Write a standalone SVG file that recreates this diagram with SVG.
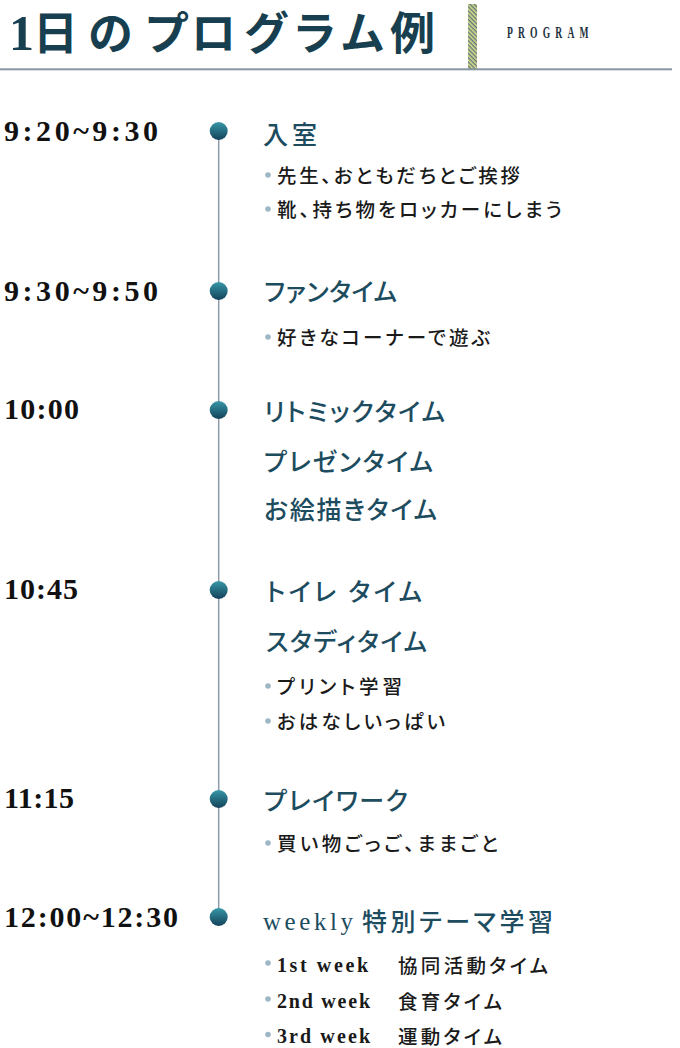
<svg xmlns="http://www.w3.org/2000/svg" width="680" height="1048" viewBox="0 0 680 1048">
<defs>
<style>
.title{font-family:"Noto Sans CJK JP",sans-serif;font-weight:700;font-size:45px;fill:#173f50}
.title1{font-family:"Liberation Serif",serif;font-weight:700;font-size:50px;fill:#173f50}
.prog{font-family:"Liberation Serif",serif;font-weight:700;font-size:16px;fill:#1d3340}
.time{font-family:"Liberation Serif",serif;font-weight:700;font-size:30px;fill:#111111}
.head{font-family:"Noto Sans CJK JP",sans-serif;font-weight:500;font-size:25px;fill:#1d4c5f;font-feature-settings:"palt"}
.headlat{font-family:"Liberation Serif",serif;font-weight:400;font-size:25px;fill:#1d4c5f}
.item{font-family:"Noto Sans CJK JP",sans-serif;font-weight:500;font-size:19.5px;fill:#1a1a1a;font-feature-settings:"palt"}
.itemlat{font-family:"Liberation Serif",serif;font-weight:700;font-size:20px;fill:#1a1a1a}
.bul{fill:#9db7c6}
.dot{fill:url(#dotg)}
.tl{stroke:#8d9ca9;stroke-width:1.5;fill:none}
</style>
<linearGradient id="dotg" x1="0" y1="0" x2="0" y2="1">
<stop offset="0" stop-color="#3897a7"/>
<stop offset="1" stop-color="#13425a"/>
</linearGradient>
<pattern id="stripe" width="3" height="3" patternUnits="userSpaceOnUse" patternTransform="rotate(45)">
<rect x="0" y="0" width="3" height="3" fill="#dcdc8c"/>
<rect x="0" y="0" width="3" height="1.4" fill="#5d7a7c"/>
</pattern>
</defs>
<rect x="0" y="0" width="680" height="1048" fill="#ffffff"/>

<g id="header">
<text class="title" y="50"><tspan class="title1" x="9">1</tspan><tspan x="33">日</tspan><tspan x="88">の</tspan><tspan x="144">プ</tspan><tspan x="191">ロ</tspan><tspan x="244">グ</tspan><tspan x="292">ラ</tspan><tspan x="340">ム</tspan><tspan x="390">例</tspan></text>
<rect x="468" y="4" width="9" height="66" fill="url(#stripe)"/>
<text class="prog" transform="translate(507 38.3) scale(0.6 1)" x="0" y="0" textLength="136" lengthAdjust="spacing">PROGRAM</text>
<rect x="0" y="68.3" width="672" height="2" fill="#8796a3"/>
</g>

<g id="connectors">
<line class="tl" x1="218.7" y1="131" x2="218.7" y2="917"/>
</g>

<g id="step-0920">
<text class="time" x="4" y="141" textLength="154" lengthAdjust="spacing">9:20~9:30</text>
<circle class="dot" cx="218.7" cy="131" r="9"/>
<text class="head" x="263" y="143.5" textLength="54" lengthAdjust="spacing">入室</text>
<circle class="bul" cx="268" cy="175" r="2.8"/>
<text class="item" x="277" y="183.4" textLength="243" lengthAdjust="spacing">先生、おともだちとご挨拶</text>
<circle class="bul" cx="268" cy="209" r="2.8"/>
<text class="item" x="277" y="217.4" textLength="285" lengthAdjust="spacing">靴、持ち物をロッカーにしまう</text>
</g>

<g id="step-0930">
<text class="time" x="4" y="300.7" textLength="154" lengthAdjust="spacing">9:30~9:50</text>
<circle class="dot" cx="218.7" cy="291" r="9"/>
<text class="head" x="264" y="301" textLength="133" lengthAdjust="spacing">ファンタイム</text>
<circle class="bul" cx="268" cy="337" r="2.8"/>
<text class="item" x="277" y="345.4" textLength="213" lengthAdjust="spacing">好きなコーナーで遊ぶ</text>
</g>

<g id="step-1000">
<text class="time" x="4" y="419" textLength="75" lengthAdjust="spacing">10:00</text>
<circle class="dot" cx="218.7" cy="410" r="9"/>
<text class="head" x="264" y="421" textLength="181" lengthAdjust="spacing">リトミックタイム</text>
<text class="head" x="264" y="471" textLength="169" lengthAdjust="spacing">プレゼンタイム</text>
<text class="head" x="264" y="518.5" textLength="173" lengthAdjust="spacing">お絵描きタイム</text>
</g>

<g id="step-1045">
<text class="time" x="4" y="599" textLength="74" lengthAdjust="spacing">10:45</text>
<circle class="dot" cx="218.7" cy="590" r="9"/>
<text class="head" x="266" y="601" textLength="156" lengthAdjust="spacing">トイレ タイム</text>
<text class="head" x="266" y="650.5" textLength="161" lengthAdjust="spacing">スタディタイム</text>
<circle class="bul" cx="268" cy="686" r="2.8"/>
<text class="item" x="277" y="694.4" textLength="125" lengthAdjust="spacing">プリント学習</text>
<circle class="bul" cx="268" cy="721" r="2.8"/>
<text class="item" x="277" y="729.4" textLength="168" lengthAdjust="spacing">おはなしいっぱい</text>
</g>

<g id="step-1115">
<text class="time" x="4" y="808" textLength="70" lengthAdjust="spacing">11:15</text>
<circle class="dot" cx="218.7" cy="799" r="9"/>
<text class="head" x="264" y="809.5" textLength="144" lengthAdjust="spacing">プレイワーク</text>
<circle class="bul" cx="268" cy="843" r="2.8"/>
<text class="item" x="277" y="851.4" textLength="221" lengthAdjust="spacing">買い物ごっご、ままごと</text>
</g>

<g id="step-1200">
<text class="time" x="4" y="927" textLength="174" lengthAdjust="spacing">12:00~12:30</text>
<circle class="dot" cx="218.7" cy="917" r="9"/>
<text class="headlat" x="263" y="929.5" textLength="90" lengthAdjust="spacing">weekly</text>
<text class="head" x="362" y="930.5" textLength="191" lengthAdjust="spacing">特別テーマ学習</text>
<circle class="bul" cx="268" cy="963" r="2.8"/>
<text class="itemlat" x="277" y="972.3" textLength="91" lengthAdjust="spacing">1st week</text>
<text class="item" x="398" y="972.8" textLength="150" lengthAdjust="spacing">協同活動タイム</text>
<circle class="bul" cx="268" cy="999" r="2.8"/>
<text class="itemlat" x="277" y="1008" textLength="93" lengthAdjust="spacing">2nd week</text>
<text class="item" x="398" y="1008.5" textLength="104" lengthAdjust="spacing">食育タイム</text>
<circle class="bul" cx="268" cy="1034.5" r="2.8"/>
<text class="itemlat" x="277" y="1043" textLength="93" lengthAdjust="spacing">3rd week</text>
<text class="item" x="398" y="1043.5" textLength="104" lengthAdjust="spacing">運動タイム</text>
</g>
</svg>
